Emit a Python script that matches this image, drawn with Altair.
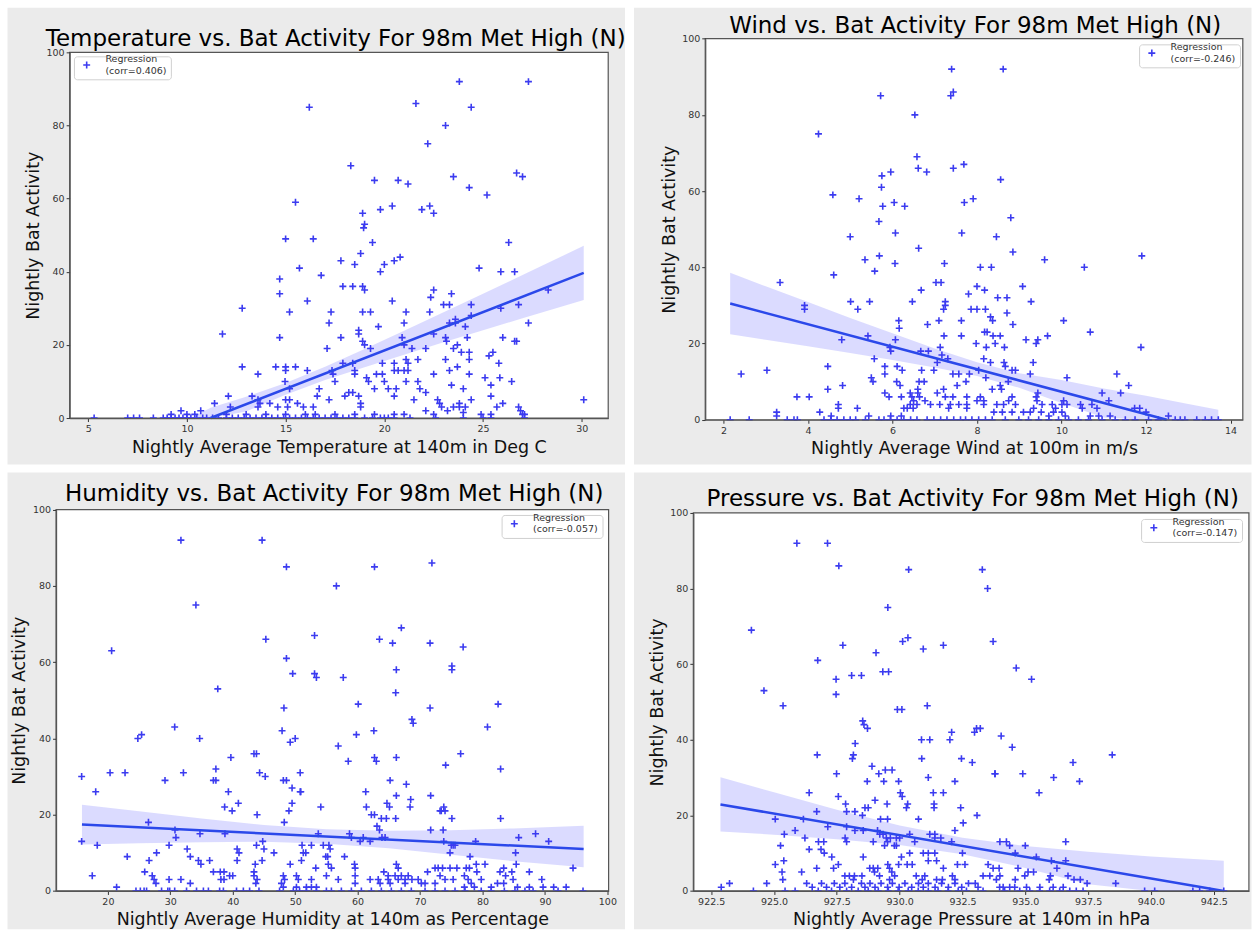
import altair as alt
import pandas as pd

FONT = "DejaVu Sans"
PLUS = "M-1,0L1,0M0,-1L0,1"
HALF_PLUS = "M-1,0L1,0M0,0L0,-1"
POINT_BLUE = "#3b3bf0"
LINE_BLUE = "#2b48ea"
BAND_BLUE = "#4a4aff"
PANEL_GRAY = "#ebebeb"
Y_TICKS = [0, 20, 40, 60, 80, 100]
CARD_W, CARD_H = 618, 457

# ---------------- Temperature panel ----------------
temp_points = [
    (23.8, 92), (27.3, 92), (21.6, 86), (16.2, 85), (24.4, 85), (23.1, 80), (22.2, 75), (18.3, 69),
    (23.5, 66), (26.7, 67), (27.0, 66), (19.5, 65), (20.7, 65), (21.2, 64), (24.3, 63), (25.2, 61),
    (15.5, 59), (20.4, 58), (22.3, 58), (19.8, 57), (21.9, 57), (22.5, 56), (18.9, 56), (19.0, 53),
    (18.95, 52), (15.0, 49), (16.4, 49), (19.4, 48), (26.3, 48), (18.8, 45), (20.8, 44), (20.5, 43),
    (17.8, 43), (18.5, 42), (20.0, 42), (15.7, 41), (24.8, 41), (19.8, 40), (25.9, 40), (26.6, 40),
    (16.8, 39), (14.7, 38), (17.9, 36), (18.4, 36), (18.9, 36), (19.0, 35), (22.5, 35), (28.3, 35),
    (14.7, 34), (23.4, 34), (22.35, 33), (16.1, 32), (20.4, 32), (23.0, 31), (23.3, 31), (24.4, 31),
    (26.8, 31), (12.8, 30), (25.9, 30), (15.2, 29), (17.3, 29), (18.9, 29), (19.3, 29), (21.1, 29),
    (22.3, 29), (24.4, 28), (23.6, 27), (23.6, 26), (17.2, 26), (21.0, 26), (23.3, 26), (27.3, 26),
    (19.7, 25), (24.1, 25), (18.7, 24), (18.7, 23), (22.5, 23), (11.8, 23), (14.7, 22), (17.8, 22),
    (20.9, 22), (23.1, 22), (24.2, 22), (26.0, 22), (18.9, 21), (23.15, 21), (26.6, 21), (26.7, 21),
    (19.0, 20), (21.0, 20), (23.7, 20), (17.1, 19), (19.3, 19), (21.4, 19), (22.1, 19), (23.5, 19),
    (24.3, 18), (23.9, 18), (25.5, 18), (25.3, 17), (21.1, 16), (21.7, 16), (23.1, 16), (24.3, 16),
    (17.9, 15), (18.4, 15), (19.9, 15), (20.5, 15), (21.2, 15), (25.8, 15),
    (12.8, 14), (14.5, 14), (15.0, 14), (15.5, 14), (23.7, 14), (13.6, 12), (15.0, 13), (16.1, 13),
    (17.35, 13), (18.5, 13), (20.5, 13), (20.7, 13), (21.0, 13), (21.2, 13), (23.3, 13), (17.4, 12),
    (18.5, 12), (19.6, 12), (19.9, 12), (22.5, 12), (24.3, 12), (19.1, 11), (25.1, 11), (25.85, 11),
    (14.97, 10), (17.5, 10), (19.2, 10), (20.0, 10), (21.1, 10), (21.7, 10), (26.45, 10), (23.4, 9),
    (25.4, 9), (15.2, 8), (16.7, 8), (19.5, 8), (20.2, 8), (20.6, 8), (21.8, 8), (24.0, 8), (18.2, 7),
    (18.4, 7), (22.1, 7), (12.1, 6), (13.3, 6), (16.6, 6), (18.0, 6), (18.7, 6), (20.5, 6), (25.4, 6),
    (13.6, 5), (15.0, 5), (15.2, 5), (17.2, 5), (21.5, 5), (22.7, 5), (24.4, 5), (30.1, 5), (11.4, 4),
    (13.7, 4), (14.2, 4), (15.6, 4), (18.8, 4), (22.8, 4), (23.8, 4), (26.0, 4), (12.2, 3), (13.6, 3),
    (14.6, 3), (15.1, 3), (15.9, 3), (16.4, 3), (18.8, 3), (22.9, 3), (23.5, 3), (23.8, 3), (24.1, 3),
    (25.7, 3), (26.8, 3), (10.7, 2), (9.7, 2), (22.1, 2), (23.2, 2), (26.9, 2), (9.2, 1), (10.0, 1),
    (10.4, 1), (16.5, 1), (22.5, 1), (24.0, 1.5), (24.9, 1), (25.4, 1), (27.0, 1), (27.1, 1), (12.0, 1),
    (13.0, 1), (14.0, 1), (15.0, 1), (16.0, 1), (17.5, 1), (18.5, 1), (19.5, 1), (20.5, 1), (21.0, 1),
]
temp_zeros = [
    5.3, 7.0, 7.3, 7.6, 8.3, 8.8, 9.0, 9.2, 9.4, 9.6, 9.8, 10.0, 10.2, 10.5, 10.8, 11.0, 11.3, 11.6,
    12.0, 12.3, 12.6, 12.9, 13.2, 13.5, 13.8, 14.0, 14.3, 14.6, 14.9, 15.2, 15.5, 15.8, 16.1, 16.4,
    16.7, 17.0, 17.3, 17.6, 17.9, 18.2, 18.5, 19.0, 19.4, 19.8, 20.0, 20.2, 20.5, 21.3, 22.6, 24.0,
    25.0, 25.4, 27.1,
]
temp_fit_x = [11.2, 30.1]
temp_fit_y = [0.0, 39.7]
temp_band_x = [10.2, 11.2, 13, 15, 17, 19, 21, 23, 25, 27, 30.1]
temp_band_lo = [-5.2, -2.8, 1.8, 6.4, 10.4, 13.9, 17.3, 20.7, 24.0, 27.3, 32.3]
temp_band_hi = [0.0, 2.8, 5.8, 9.6, 14.0, 18.9, 23.9, 28.9, 34.0, 39.1, 47.1]

# ---------------- Wind panel ----------------
wind_points = [
    (7.4, 92), (8.62, 92), (5.72, 85), (7.38, 85), (7.44, 86), (6.53, 80), (4.25, 75), (6.58, 69),
    (6.61, 66), (7.44, 66), (7.69, 67), (5.75, 64), (5.96, 65), (6.81, 65), (8.56, 63), (5.74, 61),
    (4.59, 59), (5.21, 58), (7.91, 58), (5.77, 56), (6.29, 56), (6.04, 57), (7.70, 57), (5.68, 52),
    (8.80, 53), (6.07, 49), (7.64, 49), (5.0, 48), (8.46, 48), (6.62, 45), (8.85, 44), (5.69, 43),
    (11.9, 43), (5.35, 42), (9.60, 42), (6.06, 41), (7.23, 41), (8.08, 40), (8.34, 40), (10.54, 40),
    (5.58, 39), (4.61, 38),
    (3.34, 36), (3.92, 30), (3.92, 29), (5.01, 31), (5.18, 29), (5.46, 31), (4.8, 21), (5.42, 22),
    (6.07, 21), (5.94, 19), (5.96, 18), (6.15, 26), (6.16, 24), (6.47, 31), (6.68, 34), (7.03, 36),
    (7.15, 36), (6.83, 25), (7.25, 31), (7.25, 30), (7.21, 29), (7.1, 26), (7.22, 22), (7.63, 26),
    (7.63, 22), (6.67, 18), (6.85, 18), (7.13, 19), (7.17, 17), (7.06, 15), (7.31, 16), (5.57, 16),
    (2.42, 12), (3.03, 13), (4.47, 14), (5.82, 14), (6.11, 14), (5.82, 12), (6.23, 13), (6.69, 13),
    (5.50, 11), (5.54, 10), (6.1, 10), (6.18, 9), (6.63, 10), (6.75, 10), (6.98, 13), (7.43, 12),
    (7.57, 12), (4.47, 8), (4.82, 9), (5.82, 7), (5.92, 6), (3.74, 6), (4.03, 6), (6.21, 6), (6.42, 7),
    (6.46, 6), (6.5, 5), (6.6, 8), (6.6, 7), (6.64, 6), (6.42, 4), (6.49, 3), (6.58, 4), (6.27, 3),
    (6.35, 3), (6.77, 5), (6.9, 4), (7.06, 7), (7.21, 8), (7.25, 6), (7.43, 6), (7.53, 9), (7.12, 4),
    (7.37, 4), (7.33, 3), (7.57, 4), (4.72, 4), (4.72, 3), (5.17, 3), (3.26, 2), (3.26, 1), (4.28, 2),
    (4.55, 1), (5.44, 1), (5.96, 1), (6.21, 1),
    (8.0, 35), (8.18, 34), (9.08, 35), (7.8, 33), (8.49, 32), (8.71, 32), (9.28, 31), (7.86, 29),
    (8.0, 29), (8.2, 29), (8.71, 28), (8.32, 27), (8.37, 26), (8.85, 25), (10.05, 26), (10.68, 23),
    (11.88, 19), (8.18, 23), (8.24, 23), (8.38, 22), (8.55, 22), (9.16, 21), (9.4, 20), (9.44, 21),
    (9.67, 22), (7.98, 20), (8.22, 19), (8.43, 20), (8.65, 19), (8.16, 16), (8.32, 15), (8.64, 15),
    (8.67, 14), (9.33, 15), (9.26, 12), (8.83, 13), (8.91, 13), (7.82, 12), (8.04, 13), (8.21, 11),
    (10.13, 11), (11.31, 12), (11.59, 9), (10.96, 7), (11.4, 7), (7.74, 10), (8.36, 8), (8.55, 9),
    (8.58, 8), (8.74, 10), (7.76, 6), (8.0, 5), (8.08, 6), (8.16, 5), (8.75, 5), (8.83, 6), (9.44, 7),
    (9.4, 6), (9.42, 5), (10.05, 5), (10.13, 4), (10.01, 4), (10.49, 3), (10.45, 4), (10.72, 4),
    (10.84, 3), (11.12, 5), (11.73, 3), (11.85, 3), (12.0, 2), (7.76, 4), (7.76, 3), (8.16, 4),
    (8.47, 4), (8.63, 4), (8.91, 4), (9.34, 3), (9.54, 4), (9.78, 4), (9.86, 3), (8.4, 2), (8.6, 2),
    (8.83, 2), (9.1, 2), (9.26, 2), (9.52, 2), (9.7, 1), (9.81, 2), (10.01, 2), (10.09, 1), (10.68, 1),
    (10.88, 1), (11.15, 1), (12.53, 1),
]
wind_zeros = [
    2.16, 2.61, 3.51, 3.67, 3.75, 4.38, 4.54, 4.69, 4.85, 5.0, 5.13, 5.36, 5.68, 5.8, 5.95, 6.11,
    6.27, 6.43, 6.58, 6.82, 6.98, 7.14, 7.29, 7.45, 7.61, 7.73, 7.88, 8.04, 8.2, 8.36, 8.67, 8.99,
    9.22, 9.46, 9.7, 9.93, 10.17, 10.4, 10.64, 10.96, 11.27, 11.51, 11.74, 12.06, 12.29, 12.69,
    12.81, 12.92, 13.2, 13.4, 13.55, 13.71,
]
wind_fit_x = [2.16, 12.49]
wind_fit_y = [30.5, 0.0]
wind_band_x = [2.16, 3, 4, 5, 6, 7, 8, 9, 10, 11, 12, 13, 13.71]
wind_band_lo = [22.4, 21.0, 19.3, 17.5, 15.7, 13.7, 11.5, 8.4, 4.4, 0.6, -3.1, -7.1, -9.8]
wind_band_hi = [38.6, 35.0, 30.9, 26.7, 22.7, 18.7, 15.1, 12.2, 10.4, 8.2, 6.3, 4.1, 2.6]

# ---------------- Humidity panel ----------------
hum_points = [
    (31.7, 92), (44.7, 92), (48.6, 85), (62.7, 85), (71.9, 86), (56.6, 80), (34.1, 75), (67.0, 69),
    (53.1, 67), (45.3, 66), (63.5, 66), (65.6, 65), (71.6, 65), (76.9, 64), (20.6, 63), (48.6, 61),
    (75.1, 59), (75.1, 58), (66.2, 58), (49.6, 57), (53.1, 57), (53.4, 56), (57.7, 56), (37.6, 53),
    (66.1, 52), (60.1, 49), (82.5, 49), (48.2, 48), (71.6, 48), (68.7, 45), (68.9, 44), (80.8, 43),
    (30.7, 43), (47.9, 42), (62.6, 42), (59.8, 41), (24.8, 40), (25.4, 41), (34.7, 40), (50.0, 40),
    (49.2, 39), (56.9, 38),
    (15.8, 30), (18.05, 26), (20.35, 31), (22.75, 31), (29.15, 29), (32.1, 31), (37.3, 32), (36.9, 29),
    (37.3, 29), (39.7, 35), (39.3, 26), (38.7, 22), (39.9, 21), (40.9, 23), (43.4, 36), (43.8, 36),
    (44.3, 31), (45.2, 30), (43.9, 20), (48.1, 29), (48.6, 29), (50.8, 31), (49.5, 27), (50.8, 26),
    (50.9, 26), (49.5, 23), (49.0, 21), (48.25, 18), (54.1, 22), (26.5, 18), (15.8, 13), (18.3, 12),
    (30.75, 16), (30.9, 14), (34.75, 15), (38.75, 15), (29.8, 12), (32.7, 11), (33.2, 9), (27.8, 10),
    (26.6, 8), (23.1, 9), (34.5, 8), (34.9, 7), (36.3, 8), (36.9, 5), (40.7, 11), (41.0, 10),
    (40.7, 8), (43.8, 12), (44.8, 13), (45.0, 11), (44.7, 8), (46.6, 10), (43.6, 7), (43.4, 5),
    (43.4, 4), (43.9, 3), (43.7, 2), (38.6, 5), (38.0, 5), (38.1, 3), (38.6, 3), (39.5, 4), (40.0, 4),
    (27.1, 4), (27.4, 3), (27.7, 2), (25.9, 5), (17.5, 4), (21.4, 1), (29.8, 3), (31.7, 3), (33.2, 2),
    (48.1, 4), (48.3, 3), (47.8, 2), (48.1, 1), (50.2, 4), (50.5, 3), (50.2, 1), (52.6, 3), (51.8, 1),
    (52.6, 1), (53.4, 1), (49.2, 7), (51.0, 8), (51.3, 10), (51.7, 10), (51.1, 12), (52.6, 12),
    (53.3, 6), (55.0, 4), (54.5, 12), (53.7, 15), (54.9, 9),
    (58.5, 34), (62.7, 35), (63.0, 34), (66.2, 35), (76.5, 36), (74.1, 33), (82.9, 32), (65.2, 29),
    (67.8, 28), (61.3, 26), (61.4, 22), (66.2, 25), (64.7, 23), (65.1, 22), (68.5, 24), (68.4, 22),
    (71.7, 25), (62.2, 20), (62.7, 20), (63.8, 19), (64.6, 19), (66.1, 19), (63.1, 17), (63.5, 16),
    (73.4, 21), (73.8, 22), (73.2, 21), (74.0, 21), (75.1, 19), (71.7, 16), (73.7, 16), (82.9, 19),
    (73.8, 13), (75.0, 12), (75.3, 12), (75.6, 12), (74.8, 10), (78.9, 13), (85.8, 14), (88.5, 15),
    (90.6, 13), (85.3, 10), (85.4, 7), (78.0, 9), (79.0, 7), (80.4, 7), (94.5, 6), (55.4, 12),
    (55.6, 11), (55.2, 9), (55.3, 7), (55.8, 6), (57.9, 9), (58.7, 15), (59.0, 14), (60.9, 14),
    (60.4, 13), (62.0, 13), (63.9, 14), (64.4, 14), (59.5, 7), (59.6, 6), (59.6, 4), (64.2, 5),
    (64.9, 4), (66.2, 7), (66.5, 6), (66.0, 4), (67.0, 4), (68.1, 4), (67.6, 3), (68.7, 3), (69.7, 3),
    (70.2, 2), (71.2, 5), (72.4, 6), (72.9, 6), (73.6, 6), (74.8, 6), (75.9, 6), (73.2, 4), (74.0, 3),
    (75.3, 3), (77.4, 6), (77.9, 6), (77.1, 4), (77.7, 3), (78.2, 2), (79.1, 5), (79.8, 3), (82.8, 5),
    (83.4, 6), (84.7, 5), (84.9, 3), (83.7, 4), (83.4, 2), (87.5, 5), (89.5, 3), (89.7, 1), (91.4, 1),
    (93.4, 1), (56.9, 3), (59.6, 2), (62.0, 3), (63.3, 3), (63.6, 2), (64.9, 3), (65.2, 2), (66.5, 3),
    (67.6, 2), (70.8, 2), (72.4, 2), (77.1, 1), (78.7, 1), (81.4, 1), (82.4, 2), (85.6, 1), (87.5, 1),
]
hum_zeros = [
    24.5, 25.2, 25.8, 26.2, 28.6, 29.6, 29.9, 30.7, 32.6, 34.2, 35.3, 36.1, 37.9, 38.5, 40.6, 41.7,
    42.7, 44.2, 47.5, 49.7, 50.7, 51.8, 53.4, 55.0, 55.8, 57.4, 59.0, 60.6, 62.2, 63.8, 65.4, 67.0,
    68.6, 70.8, 72.4, 74.0, 75.6, 77.2, 79.8, 81.4, 83.5, 85.2, 86.8, 88.1, 92.1, 96.1,
]
hum_fit_x = [15.85, 96.2]
hum_fit_y = [17.4, 11.0]
hum_band_x = [15.85, 25, 35, 45, 55, 65, 75, 85, 96.2]
hum_band_lo = [12.2, 12.5, 12.8, 12.9, 12.4, 11.2, 9.5, 7.8, 6.2]
hum_band_hi = [22.6, 20.9, 19.0, 17.3, 16.2, 15.8, 15.9, 16.4, 17.1]

# ---------------- Pressure panel ----------------
pres_points = [
    (925.91, 92), (927.13, 92), (927.58, 86), (930.36, 85), (933.29, 85), (933.5, 80), (929.53, 75),
    (924.1, 69), (930.12, 66), (930.33, 67), (933.72, 66), (927.74, 65), (931.74, 65), (930.94, 64),
    (929.06, 63), (926.74, 61), (934.64, 59), (929.33, 58), (929.56, 58), (928.09, 57), (928.48, 57),
    (927.47, 56), (935.25, 56), (924.6, 53), (927.47, 52), (925.36, 49), (931.1, 49), (929.91, 48),
    (930.09, 48), (928.53, 45), (928.58, 44), (928.72, 43), (933.21, 43), (932.98, 42), (933.06, 43),
    (932.07, 42), (934.04, 41), (930.87, 40), (931.2, 40), (932.0, 40), (928.23, 39), (934.48, 38),
    (926.72, 36), (928.16, 36), (928.12, 35), (932.46, 35), (928.9, 33), (929.17, 31), (929.43, 32),
    (929.7, 32), (928.71, 29), (929.37, 29), (929.96, 29), (927.49, 31), (930.88, 35), (931.14, 30),
    (932.2, 29), (926.4, 26), (927.56, 25), (930.03, 26), (930.1, 25), (930.32, 23), (930.27, 22),
    (931.34, 26), (931.74, 26), (931.37, 23), (931.37, 22), (929.02, 24), (929.5, 23), (928.62, 22),
    (928.75, 22), (927.89, 21), (928.22, 21), (928.52, 20), (929.24, 19), (929.52, 19), (930.75, 19),
    (932.43, 22), (932.53, 18), (927.85, 23), (926.7, 21), (925.05, 19), (926.17, 19), (925.41, 15),
    (925.84, 16), (925.26, 12), (925.39, 8), (927.14, 17), (926.23, 14), (926.4, 11), (926.77, 13),
    (926.98, 13), (926.87, 11), (927.0, 10), (927.3, 9), (927.89, 17), (928.22, 16), (927.83, 14),
    (927.89, 13), (928.55, 16), (928.95, 13), (929.12, 16), (929.21, 15), (929.34, 15), (929.47, 14),
    (929.63, 14), (929.87, 14), (930.0, 14), (929.4, 12), (929.52, 13), (929.79, 12), (929.87, 12),
    (930.4, 15), (930.6, 13), (930.4, 10), (931.2, 15), (931.4, 15), (931.4, 14), (931.64, 14),
    (932.07, 13), (932.2, 16), (926.7, 6), (925.05, 7), (925.32, 5), (925.35, 3), (926.1, 5),
    (927.37, 6), (927.56, 7), (927.82, 4), (928.0, 4), (928.2, 4), (928.16, 3), (928.5, 4), (928.55, 9),
    (928.81, 6), (928.95, 6), (929.0, 5), (929.13, 6), (929.2, 4), (929.53, 7), (929.6, 6), (929.69, 5),
    (929.8, 4), (929.6, 3), (929.96, 7), (930.07, 9), (930.3, 7), (930.5, 7), (930.66, 4), (931.0, 4),
    (930.9, 3), (931.14, 10), (930.94, 10), (931.4, 10), (931.14, 8), (931.47, 8), (931.74, 6),
    (932.1, 4), (932.3, 7), (932.6, 7), (931.47, 3), (931.7, 3), (932.2, 3), (932.5, 10), (922.9, 1),
    (923.23, 2), (924.71, 2), (926.3, 2), (926.52, 1), (926.89, 2), (927.09, 1), (927.4, 2),
    (927.62, 1), (927.82, 2), (928.09, 1), (928.48, 2), (928.62, 1), (928.82, 2), (929.02, 1),
    (929.26, 2), (929.52, 1), (929.71, 2), (929.98, 1), (930.21, 2), (930.48, 1), (930.75, 2),
    (930.94, 1), (931.14, 2), (931.41, 1), (931.67, 2), (931.94, 1), (932.2, 2), (932.47, 1),
    (932.74, 2),
    (932.89, 34), (933.79, 31), (933.8, 31), (934.9, 31), (936.13, 30), (936.9, 34), (937.16, 29),
    (938.46, 36), (935.55, 26), (933.08, 20), (933.99, 13), (934.25, 13), (934.38, 12), (935.0, 12),
    (936.61, 13), (934.6, 10), (935.44, 9), (936.04, 8), (936.26, 6), (936.61, 8), (933.52, 7),
    (933.72, 6), (933.96, 6), (934.71, 6), (935.11, 5), (935.33, 5), (934.98, 4), (933.32, 4),
    (933.59, 4), (933.85, 3), (933.99, 4), (934.6, 3), (936.0, 4), (935.95, 3), (936.7, 4), (936.94, 3),
    (937.19, 3), (937.46, 2), (938.6, 2), (933.01, 2), (933.12, 1), (933.98, 1), (934.12, 1),
    (934.38, 1), (934.58, 1), (935.05, 1), (935.58, 1), (936.11, 1), (936.51, 1),
]
pres_zeros = [
    924.18, 925.44, 925.84, 926.76, 927.29, 927.89, 928.35, 928.75, 929.15, 929.55, 929.94, 930.34,
    930.74, 931.14, 931.53, 931.93, 932.33, 932.66, 933.32, 934.18, 934.78, 935.18, 935.57, 935.97,
    936.37, 936.77, 937.03, 937.3, 939.75, 940.15, 941.67, 941.94, 942.34, 942.9,
]
pres_fit_x = [922.87, 942.9]
pres_fit_y = [22.9, 0.0]
pres_band_x = [922.87, 925, 927.5, 930, 932.5, 935, 937.5, 940, 942.9]
pres_band_lo = [15.7, 14.9, 13.7, 12.15, 9.7, 6.1, 1.8, -2.5, -8.0]
pres_band_hi = [30.1, 26.1, 21.5, 17.35, 14.1, 11.9, 10.4, 9.1, 8.0]


def build_panel(title, x_title, corr, pts, zeros, fit_x, fit_y, band_x, band_lo, band_hi,
                x_domain, x_ticks, x_format, plot_box, title_pos, legend_pos):
    """One gray card holding a framed scatter plot; plot_box = (left, top, right, bottom) in px."""
    left, top, right, bottom = plot_box
    label = f"Regression|(corr={corr})"

    pts_df = pd.DataFrame({"x": [p[0] for p in pts], "y": [p[1] for p in pts]})
    pts_df["series"] = label
    zero_df = pd.DataFrame({"x": zeros, "y": [0] * len(zeros)})
    fit_df = pd.DataFrame({"x": fit_x, "y": fit_y})
    band_df = pd.DataFrame({"x": band_x, "lo": band_lo, "hi": band_hi})
    one = pd.DataFrame({"k": [0]})

    x_scale = alt.Scale(domain=x_domain, range=[left, right], nice=False, zero=False)
    y_scale = alt.Scale(domain=[0, 100], range=[bottom, top], nice=False, clamp=True)
    axis_style = dict(
        grid=False, zindex=1, labelFont=FONT, labelFontSize=9.5, labelColor="#333333",
        labelPadding=2, labelFlush=False, labelOverlap=False, tickColor="#333333",
        tickSize=3.5, tickWidth=1, domainColor="#555555", domainWidth=1.2,
        titleFont=FONT, titleFontSize=17.5, titleFontWeight="normal", titleColor="#111111",
    )
    x_axis = alt.Axis(values=x_ticks, format=x_format, title=x_title, titlePadding=5,
                      offset=bottom - CARD_H, **axis_style)
    y_axis = alt.Axis(values=Y_TICKS, title="Nightly Bat Activity", titlePadding=3.5,
                      offset=-left, **axis_style)
    enc_x = alt.X("x:Q", scale=x_scale, axis=x_axis)

    plot_bg = alt.Chart(one).mark_rect(fill="white", stroke="#555555", strokeWidth=1.2).encode(
        x=alt.value(left), x2=alt.value(right), y=alt.value(top), y2=alt.value(bottom),
    )
    heading = alt.Chart(one).mark_text(
        text=title, font=FONT, fontSize=23, color="#000000", align="center", baseline="alphabetic"
    ).encode(x=alt.value(title_pos[0]), y=alt.value(title_pos[1]))

    band = alt.Chart(band_df).mark_area(color=BAND_BLUE, opacity=0.2).encode(
        x=enc_x, y=alt.Y("lo:Q", scale=y_scale, axis=y_axis), y2="hi:Q",
    )
    points = alt.Chart(pts_df).mark_point(
        shape=PLUS, filled=False, size=48, strokeWidth=1.6, opacity=1
    ).encode(
        x=enc_x,
        y=alt.Y("y:Q", scale=y_scale, axis=y_axis),
        color=alt.Color(
            "series:N",
            scale=alt.Scale(domain=[label], range=[POINT_BLUE]),
            legend=alt.Legend(
                title=None, orient="none", legendX=legend_pos[0], legendY=legend_pos[1], padding=4,
                labelExpr="split(datum.label, '|')", labelFont=FONT, labelFontSize=9.5,
                labelColor="#333333", labelOffset=14, labelBaseline="line-bottom",
                symbolType=PLUS, symbolSize=48, symbolStrokeWidth=1.6, symbolOffset=4,
                strokeColor="#d0d0d0", fillColor="white", cornerRadius=3,
            ),
        ),
    )
    # nights with no activity sit on the frame, so only the upper half of the marker shows
    zero_points = alt.Chart(zero_df).mark_point(
        shape=HALF_PLUS, filled=False, size=48, strokeWidth=1.6, opacity=1, color=POINT_BLUE
    ).encode(x=enc_x, y=alt.Y("y:Q", scale=y_scale, axis=y_axis))
    line = alt.Chart(fit_df).mark_line(color=LINE_BLUE, strokeWidth=2.5).encode(
        x=enc_x, y=alt.Y("y:Q", scale=y_scale, axis=y_axis),
    )
    return alt.layer(plot_bg, heading, band, points, zero_points, line).properties(
        width=CARD_W, height=CARD_H
    )


temp_panel = build_panel(
    "Temperature vs. Bat Activity For 98m Met High (N)",
    "Nightly Average Temperature at 140m in Deg C", "0.406",
    temp_points, temp_zeros, temp_fit_x, temp_fit_y, temp_band_x, temp_band_lo, temp_band_hi,
    [4.06, 31.34], [5, 10, 15, 20, 25, 30], "d",
    (62.7, 45, 601.7, 411), (329, 38.3), (67, 49),
)
wind_panel = build_panel(
    "Wind vs. Bat Activity For 98m Met High (N)",
    "Nightly Average Wind at 100m in m/s", "-0.246",
    wind_points, wind_zeros, wind_fit_x, wind_fit_y, wind_band_x, wind_band_lo, wind_band_hi,
    [1.57, 14.29], [2, 4, 6, 8, 10, 12, 14], "d",
    (71.8, 31.3, 609.8, 412.7), (342, 25.7), (506, 37),
)
hum_panel = build_panel(
    "Humidity vs. Bat Activity For 98m Met High (N)",
    "Nightly Average Humidity at 140m as Percentage", "-0.057",
    hum_points, hum_zeros, hum_fit_x, hum_fit_y, hum_band_x, hum_band_lo, hum_band_hi,
    [11.7, 100.2], [20, 30, 40, 50, 60, 70, 80, 90, 100], "d",
    (49.1, 37.7, 602.1, 419.3), (327.5, 29.3), (495, 43),
)
pres_panel = build_panel(
    "Pressure vs. Bat Activity For 98m Met High (N)",
    "Nightly Average Pressure at 140m in hPa", "-0.147",
    pres_points, pres_zeros, pres_fit_x, pres_fit_y, pres_band_x, pres_band_lo, pres_band_hi,
    [921.79, 943.9], [922.5, 925, 927.5, 930, 932.5, 935, 937.5, 940, 942.5], ".1f",
    (59.9, 41, 615.9, 419.3), (339.5, 33.7), (508, 47),
)

chart = (
    alt.ConcatChart(concat=[temp_panel, wind_panel, hum_panel, pres_panel], columns=2, spacing=6)
    .resolve_scale(color="independent")
    .properties(background="white", padding={"left": 6, "top": 6, "right": 0, "bottom": 0})
    .configure_view(fill=PANEL_GRAY, stroke="transparent")
)

chart.save("out.html", embed_options={"renderer": "svg", "actions": False})
